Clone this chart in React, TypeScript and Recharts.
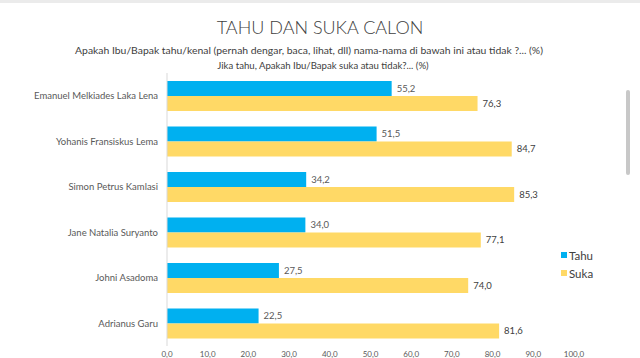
import { BarChart, Bar, XAxis, YAxis, LabelList, Legend } from "recharts";

const candidates = [
  "Emanuel Melkiades Laka Lena",
  "Yohanis Fransiskus Lema",
  "Simon Petrus Kamlasi",
  "Jane Natalia Suryanto",
  "Johni Asadoma",
  "Adrianus Garu",
];
const tahu = [55.2, 51.5, 34.2, 34.0, 27.5, 22.5];
const suka = [76.3, 84.7, 85.3, 77.1, 74.0, 81.6];
const xTicks = [0, 10, 20, 30, 40, 50, 60, 70, 80, 90, 100];

const TITLE = "TAHU DAN SUKA CALON";
const SUB1 =
  "Apakah Ibu/Bapak tahu/kenal (pernah dengar, baca, lihat, dll) nama-nama di bawah ini atau tidak ?... (%)";
const SUB2 = "Jika tahu, Apakah Ibu/Bapak suka atau tidak?... (%)";

const BLUE = "#00B0F0";
const YELLOW = "#FFD966";
const FONT = "Lato, 'Open Sans', sans-serif";

const data = candidates.map((name, i) => ({ name, tahu: tahu[i], suka: suka[i] }));

// Indonesian style decimals: 55,2
const fmt = (v: number) => Number(v).toFixed(1).replace(".", ",");

// plain tick so long names don't wrap
function NameTick(props: any) {
  const { x, y, payload } = props;
  return (
    <text x={x} y={y} dy="0.35em" textAnchor="end" fontSize={9.5} fill="#595959" fontFamily={FONT}>
      {payload.value}
    </text>
  );
}

function LegendBox() {
  const items = [
    { label: "Tahu", color: BLUE },
    { label: "Suka", color: YELLOW },
  ];
  return (
    <div style={{ fontFamily: FONT, fontSize: 11.5, color: "#404040" }}>
      {items.map((it) => (
        <div key={it.label} style={{ display: "flex", alignItems: "center", height: 18 }}>
          <span style={{ width: 6, height: 6, background: it.color, marginRight: 2 }} />
          <span>{it.label}</span>
        </div>
      ))}
    </div>
  );
}

export default function App() {
  return (
    <div
      style={{
        position: "absolute",
        left: 0,
        top: 0,
        width: 640,
        height: 358,
        background: "#fff",
        overflow: "hidden",
        fontFamily: FONT,
      }}
    >
      <div style={{ position: "absolute", left: 0, top: 0, width: 640, height: 3, background: "#EBEBEB" }} />
      <div
        style={{
          position: "absolute",
          left: 626,
          top: 90,
          width: 4,
          height: 85,
          borderRadius: 2,
          background: "#C8C8C8",
        }}
      />
      <div
        style={{
          position: "absolute",
          top: 16,
          width: 640,
          textAlign: "center",
          fontSize: 18,
          fontWeight: 300,
          color: "#404040",
          lineHeight: "22px",
        }}
      >
        {TITLE}
      </div>
      <div
        style={{
          position: "absolute",
          top: 43,
          left: -11,
          width: 640,
          textAlign: "center",
          fontSize: 10.4,
          color: "#404040",
          lineHeight: "14px",
        }}
      >
        {SUB1}
      </div>
      <div
        style={{
          position: "absolute",
          top: 59,
          left: 3,
          width: 640,
          textAlign: "center",
          fontSize: 9.6,
          color: "#404040",
          lineHeight: "14px",
        }}
      >
        {SUB2}
      </div>
      <BarChart
        width={640}
        height={358}
        data={data}
        layout="vertical"
        margin={{ top: 73, right: 66, bottom: 0, left: 0 }}
        barSize={15}
        barGap={0}
        style={{ position: "absolute", left: 0, top: 0 }}
      >
        <XAxis
          type="number"
          domain={[0, 100]}
          ticks={xTicks}
          tickFormatter={fmt}
          axisLine={false}
          tickLine={false}
          tickSize={4}
          tickMargin={1}
          height={12}
          interval={0}
          tick={{ fontSize: 8, fill: "#595959", fontFamily: FONT }}
        />
        <YAxis
          type="category"
          dataKey="name"
          width={167}
          axisLine={{ stroke: "#D9D9D9" }}
          tickLine={false}
          tickSize={4}
          tickMargin={5}
          tick={<NameTick />}
        />
        <Legend
          layout="vertical"
          align="center"
          verticalAlign="middle"
          wrapperStyle={{ left: 561, top: 246 }}
          content={<LegendBox />}
        />
        <Bar dataKey="tahu" name="Tahu" fill={BLUE} isAnimationActive={false}>
          <LabelList
            dataKey="tahu"
            position="right"
            offset={5}
            formatter={fmt}
            style={{ fontSize: 9.5, fill: "#595959", fontFamily: FONT }}
          />
        </Bar>
        <Bar dataKey="suka" name="Suka" fill={YELLOW} isAnimationActive={false}>
          <LabelList
            dataKey="suka"
            position="right"
            offset={5}
            formatter={fmt}
            style={{ fontSize: 9.5, fill: "#404040", fontFamily: FONT }}
          />
        </Bar>
      </BarChart>
    </div>
  );
}
